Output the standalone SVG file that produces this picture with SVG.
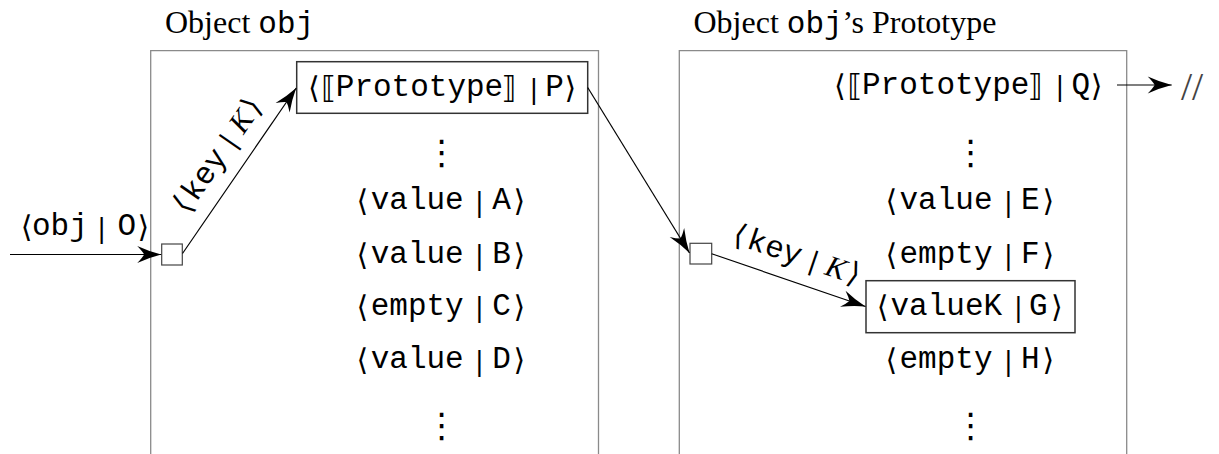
<svg xmlns="http://www.w3.org/2000/svg" width="1219" height="454" viewBox="0 0 1219 454">
  <style>
    text { fill: #000; }
    .rm { font-family: "Liberation Serif", serif; font-size: 32px; }
    .tt { font-family: "Liberation Mono", "DejaVu Sans Mono", monospace; font-size: 31px; }
    .br { font-family: "DejaVu Sans", sans-serif; font-size: 30px; }
    .bar { font-family: "DejaVu Sans", sans-serif; font-size: 26px; }
    .it { font-family: "Liberation Serif", serif; font-style: italic; font-size: 30px; }
    .dots { font-family: "DejaVu Sans", sans-serif; font-size: 34px; text-anchor: middle; }
    .frame { fill: none; stroke: #8a8a8a; stroke-width: 1.3; }
    .box { fill: none; stroke: #333; stroke-width: 1.5; }
    .port { fill: #fff; stroke: #444; stroke-width: 1.2; }
    .edge { fill: none; stroke: #000; stroke-width: 1.2; marker-end: url(#stealth); }
  </style>
  <defs>
    <marker id="stealth" viewBox="-26 -10 27 20" refX="0" refY="0" markerWidth="27" markerHeight="20" markerUnits="userSpaceOnUse" orient="auto">
      <path d="M0,0 Q-12,-3 -24,-8.5 Q-19,-3.5 -17,0 Q-19,3.5 -24,8.5 Q-12,3 0,0 Z" fill="#000"/>
    </marker>
  </defs>

  <!-- the object itself -->
  <g id="object-obj">
    <text class="rm" x="165" y="33.3">Object <tspan class="tt">obj</tspan></text>
    <path class="frame" d="M150.7,454 V50.7 H598.5 V454"/>
    <rect id="port-obj" class="port" x="161.7" y="244" width="20.6" height="21"/>
    <g id="slot-proto-P">
      <rect class="box" x="296.7" y="61.7" width="291" height="51.6"/>
      <text><tspan class="br" x="307.9" y="98">⟨</tspan><tspan class="br" x="321.2" y="98">⟦</tspan><tspan class="tt" x="335.8" y="96">Prototype</tspan><tspan class="br" x="501.5" y="98">⟧</tspan><tspan class="bar" x="529.4" y="97.5">|</tspan><tspan class="tt" x="545.3" y="96">P</tspan><tspan class="br" x="564.5" y="98">⟩</tspan></text>
    </g>
    <text class="dots" x="441.7" y="164">⋮</text>
    <text id="slot-A"><tspan class="br" x="356.6" y="211.3">⟨</tspan><tspan class="tt" x="370.7" y="209.3">value</tspan><tspan class="bar" x="475.1" y="210.8">|</tspan><tspan class="tt" x="492.2" y="209.3">A</tspan><tspan class="br" x="513.6" y="211.3">⟩</tspan></text>
    <text id="slot-B"><tspan class="br" x="356.6" y="264.7">⟨</tspan><tspan class="tt" x="370.7" y="262.7">value</tspan><tspan class="bar" x="475.1" y="264.2">|</tspan><tspan class="tt" x="492.2" y="262.7">B</tspan><tspan class="br" x="513.6" y="264.7">⟩</tspan></text>
    <text id="slot-C"><tspan class="br" x="356.6" y="316.5">⟨</tspan><tspan class="tt" x="370.7" y="314.5">empty</tspan><tspan class="bar" x="475.1" y="316">|</tspan><tspan class="tt" x="492.2" y="314.5">C</tspan><tspan class="br" x="513.6" y="316.5">⟩</tspan></text>
    <text id="slot-D"><tspan class="br" x="356.6" y="370.3">⟨</tspan><tspan class="tt" x="370.7" y="368.3">value</tspan><tspan class="bar" x="475.1" y="369.8">|</tspan><tspan class="tt" x="492.2" y="368.3">D</tspan><tspan class="br" x="513.6" y="370.3">⟩</tspan></text>
    <text class="dots" x="441.7" y="437">⋮</text>
  </g>

  <!-- its prototype -->
  <g id="object-proto">
    <text class="rm" x="693.5" y="33.3">Object <tspan class="tt">obj</tspan>’s Prototype</text>
    <path class="frame" d="M679.3,454 V50.7 H1126.7 V454"/>
    <rect id="port-proto" class="port" x="690" y="243.3" width="21.7" height="20.7"/>
    <text id="slot-proto-Q"><tspan class="br" x="834.1" y="95.5">⟨</tspan><tspan class="br" x="847.4" y="95.5">⟦</tspan><tspan class="tt" x="862" y="93.5">Prototype</tspan><tspan class="br" x="1027.7" y="95.5">⟧</tspan><tspan class="bar" x="1055.6" y="95">|</tspan><tspan class="tt" x="1071.5" y="93.5">Q</tspan><tspan class="br" x="1090.7" y="95.5">⟩</tspan></text>
    <text class="dots" x="970.7" y="164">⋮</text>
    <text id="slot-E"><tspan class="br" x="885.4" y="211.3">⟨</tspan><tspan class="tt" x="899.5" y="209.3">value</tspan><tspan class="bar" x="1003.9" y="210.8">|</tspan><tspan class="tt" x="1021" y="209.3">E</tspan><tspan class="br" x="1042.4" y="211.3">⟩</tspan></text>
    <text id="slot-F"><tspan class="br" x="885.4" y="264.7">⟨</tspan><tspan class="tt" x="899.5" y="262.7">empty</tspan><tspan class="bar" x="1003.9" y="264.2">|</tspan><tspan class="tt" x="1021" y="262.7">F</tspan><tspan class="br" x="1042.4" y="264.7">⟩</tspan></text>
    <g id="slot-G">
      <rect class="box" x="866" y="280.7" width="209" height="52"/>
      <text><tspan class="br" x="876.7" y="316.5">⟨</tspan><tspan class="tt" x="890.5" y="314.5">valueK</tspan><tspan class="bar" x="1013.9" y="316">|</tspan><tspan class="tt" x="1029" y="314.5">G</tspan><tspan class="br" x="1051" y="316.5">⟩</tspan></text>
    </g>
    <text id="slot-H"><tspan class="br" x="885.4" y="370.3">⟨</tspan><tspan class="tt" x="899.5" y="368.3">empty</tspan><tspan class="bar" x="1003.9" y="369.8">|</tspan><tspan class="tt" x="1021" y="368.3">H</tspan><tspan class="br" x="1042.4" y="370.3">⟩</tspan></text>
    <text class="dots" x="970.7" y="437">⋮</text>
  </g>

  <g id="null-end">
    <text class="rm" x="1181" y="100" style="font-size:40px;fill:#444">//</text>
  </g>

  <!-- references between slots -->
  <g id="connectors">
    <path class="edge" d="M10,254.5 H161.2"/>
    <text><tspan class="br" x="20.7" y="237">⟨</tspan><tspan class="tt" x="32" y="235">obj</tspan><tspan class="bar" x="97.3" y="236.5">|</tspan><tspan class="tt" x="117.5" y="235">O</tspan><tspan class="br" x="137.4" y="237">⟩</tspan></text>

    <path class="edge" d="M182.5,253.5 L296.2,88"/>
    <text transform="rotate(-55.1 225.5 160.8)" x="225.5" y="160.8" text-anchor="middle"><tspan class="br">⟨</tspan><tspan class="tt" dx="3">key</tspan><tspan class="bar" dx="9">|</tspan><tspan class="it" dx="9">K</tspan><tspan class="br" dx="3">⟩</tspan></text>

    <path class="edge" d="M587.7,87.5 L689.5,253"/>

    <path class="edge" d="M711.7,253.8 L865.5,306.5"/>
    <text transform="rotate(18.7 793.9 263.9)" x="793.9" y="263.9" text-anchor="middle"><tspan class="br">⟨</tspan><tspan class="tt" dx="3">key</tspan><tspan class="bar" dx="9">|</tspan><tspan class="it" dx="9">K</tspan><tspan class="br" dx="3">⟩</tspan></text>

    <path class="edge" d="M1117,85 H1171.7"/>
  </g>
</svg>
